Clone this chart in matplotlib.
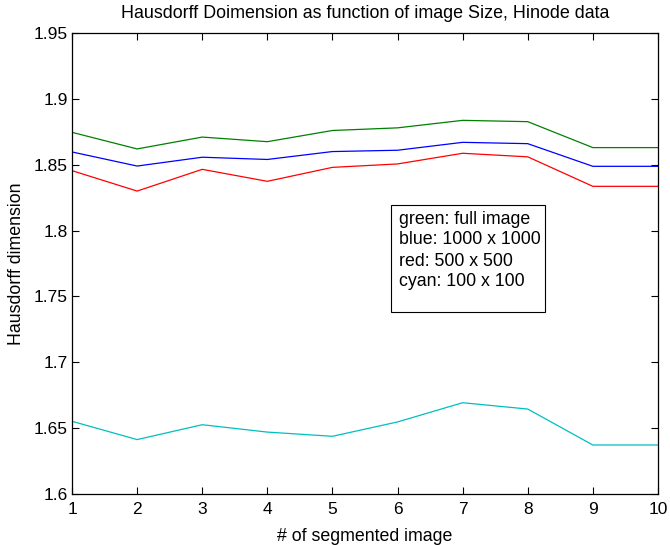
import matplotlib
matplotlib.use("Agg")
import matplotlib.pyplot as plt
from matplotlib.patches import Rectangle

plt.rcParams['font.family'] = ['Liberation Sans', 'DejaVu Sans']

x = [1, 2, 3, 4, 5, 6, 7, 8, 9, 10]
green_full = [1.8746, 1.862, 1.871, 1.8675, 1.876, 1.878, 1.8837, 1.8827, 1.863, 1.863]
blue_1000 = [1.8597, 1.849, 1.8557, 1.854, 1.860, 1.861, 1.867, 1.866, 1.8488, 1.8488]
red_500 = [1.8455, 1.830, 1.8465, 1.8374, 1.848, 1.8506, 1.8587, 1.856, 1.8336, 1.8336]
cyan_100 = [1.6552, 1.6413, 1.6526, 1.647, 1.6438, 1.6547, 1.6693, 1.6645, 1.6372, 1.6372]
yticks = [1.6, 1.65, 1.7, 1.75, 1.8, 1.85, 1.9, 1.95]
ytick_labels = ["1.6", "1.65", "1.7", "1.75", "1.8", "1.85", "1.9", "1.95"]
legend_lines = ["green: full image", "blue: 1000 x 1000", "red: 500 x 500", "cyan: 100 x 100"]

fig = plt.figure(figsize=(6.7, 5.45), dpi=100)
ax = fig.add_axes([0.1075, 0.0936, 0.982 - 0.1075, 0.9394 - 0.0936])

lw = 0.9
ax.plot(x, green_full, color=(0, 0.5, 0), lw=lw)
ax.plot(x, blue_1000, color=(0, 0, 1), lw=lw)
ax.plot(x, red_500, color=(1, 0, 0), lw=lw)
ax.plot(x, cyan_100, color=(0, 0.75, 0.75), lw=lw)

ax.set_xlim(1, 10)
ax.set_ylim(1.6, 1.95)
ax.set_xticks(x)
ax.set_xticklabels([str(v) for v in x])
ax.set_yticks(yticks)
ax.set_yticklabels(ytick_labels)
ax.tick_params(direction='in', length=5, width=0.8, top=True, right=True, labelsize=12.5)
ax.tick_params(axis='x', pad=6)
ax.tick_params(axis='y', pad=3)
for s in ax.spines.values():
    s.set_linewidth(0.9)

ax.set_title("Hausdorff Doimension as function of image Size, Hinode data", fontsize=12.9, pad=11)
ax.set_xlabel("# of segmented image", fontsize=12.8, labelpad=8)
ax.set_ylabel("Hausdorff dimension", fontsize=12.8, labelpad=6)

# annotation box
rect = Rectangle((5.9, 1.7382), 8.266 - 5.9, 1.8195 - 1.7382, transform=ax.transData,
                 fill=False, edgecolor='black', lw=0.8)
ax.add_patch(rect)
ys = [1.8081, 1.7929, 1.7769, 1.7610]
for t, yy in zip(legend_lines, ys):
    ax.text(6.03, yy, t, fontsize=12.8, va='center', ha='left')

fig.savefig("out.png", dpi=100)
